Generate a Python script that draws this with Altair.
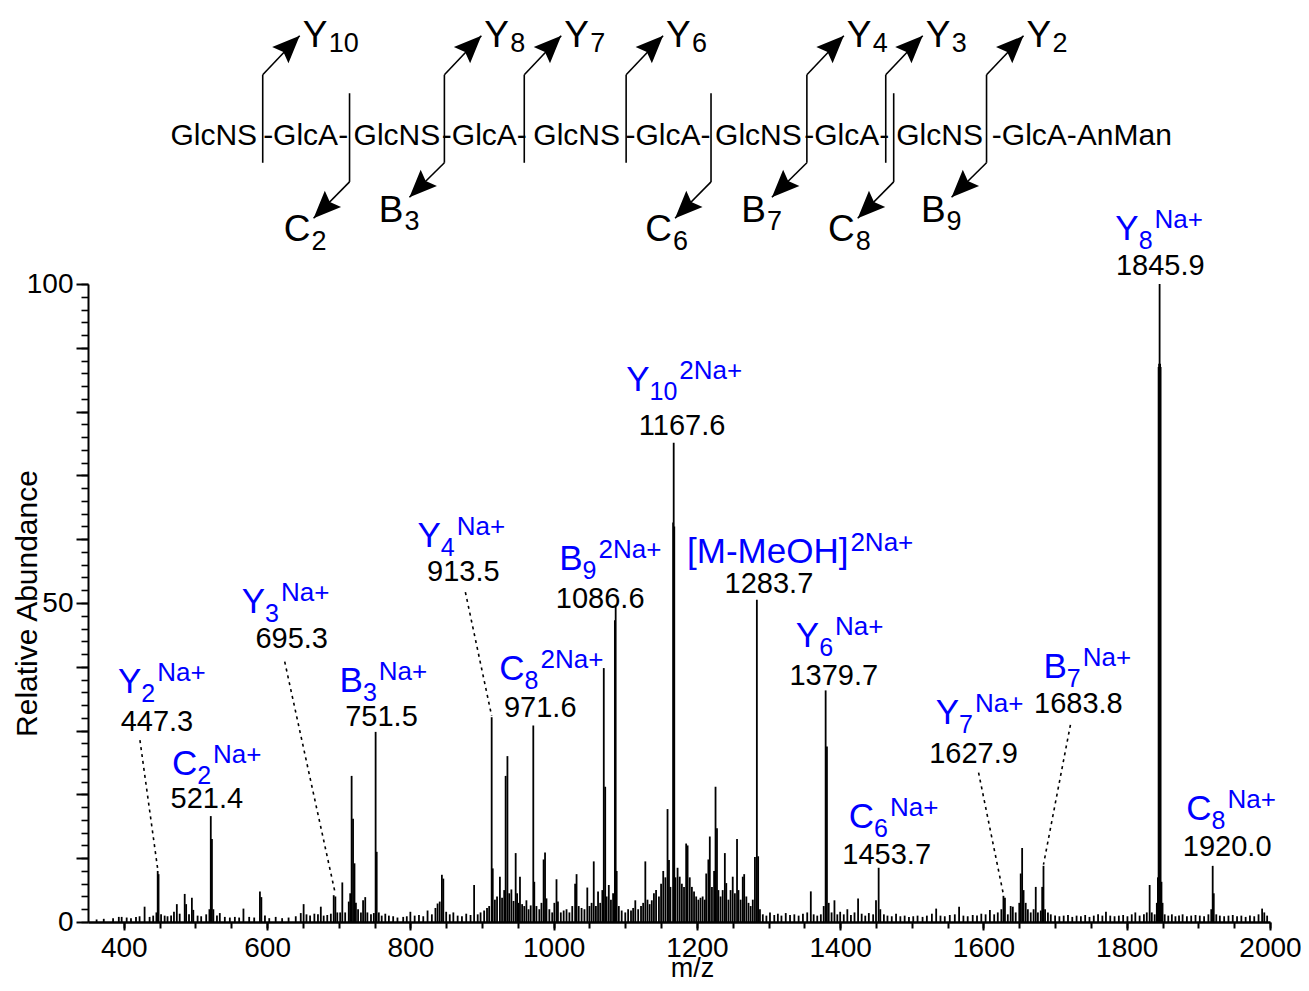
import altair as alt
import pandas as pd

FONT = "Liberation Sans, Arial, sans-serif"
BLUE = "#0000ff"

X_DOMAIN = [350, 2000]
Y_DOMAIN = [0, 100]
PLOT_W, PLOT_H = 1182, 638
MZ_PER_PX = (X_DOMAIN[1] - X_DOMAIN[0]) / PLOT_W
AB_PER_PX = (Y_DOMAIN[1] - Y_DOMAIN[0]) / PLOT_H

# ---------------- spectrum peaks (m/z, relative abundance) ----------------
peaks_350_440 = [(362, 0.4), (372, 0.5), (385, 0.6), (393, 0.8), (397, 0.8), (404, 0.7), (410, 0.6),
                 (417, 0.8), (422, 0.9), (429, 2.4), (436, 0.8), (441, 1.0)]
peaks_445_530 = [(445.5, 1.5), (447.3, 8.0), (448.5, 7.5), (452, 1.2), (457, 1.0), (461, 0.9), (466, 1.0),
                 (470, 1.6), (474, 2.8), (478, 1.3), (485, 4.4), (487, 2.8), (491, 1.2), (495, 3.8),
                 (497, 1.9), (503, 1.0), (508, 0.9), (515, 1.2), (519.5, 2.0), (521.4, 16.6), (523, 13.0),
                 (525, 2.0), (530, 1.0)]
peaks_534_700 = [(534, 1.4), (541, 0.8), (548, 0.7), (555, 0.8), (561, 0.7), (567, 2.1), (575, 0.8),
                 (582, 0.7), (590, 4.8), (592, 3.9), (597, 1.0), (603, 0.6), (612, 0.8), (621, 0.6),
                 (630, 0.7), (640, 0.9), (647, 1.4), (651, 2.8), (655, 1.2), (660, 1.0), (666, 1.3),
                 (671, 1.2), (675, 2.4), (679, 1.0), (684, 1.1), (689, 1.3), (693, 4.2), (695.3, 4.0),
                 (698, 1.5)]
peaks_700_760 = [(702, 1.5), (705, 6.2), (709, 1.5), (714, 3.2), (716, 4.5), (718, 22.9), (720, 16.2),
                 (722, 9.2), (724, 3.0), (727, 2.0), (731, 1.5), (734, 3.4), (737, 3.9), (740, 1.5),
                 (745, 1.2), (749, 1.4), (751.5, 29.8), (753, 11.0), (756, 1.5), (760, 1.0)]
peaks_765_910 = [(765, 1.3), (770, 1.0), (776, 0.9), (782, 0.7), (790, 0.8), (795, 0.9), (800, 1.6),
                 (806, 1.0), (812, 1.1), (818, 0.9), (824, 1.8), (830, 1.2), (835, 2.2), (838, 2.9),
                 (841, 3.2), (844, 7.4), (846, 6.8), (850, 1.6), (855, 1.2), (860, 1.5), (866, 1.0),
                 (872, 0.9), (878, 1.3), (884, 1.1), (889, 5.8), (894, 1.2), (898, 1.5), (903, 1.8),
                 (907, 2.2), (910, 2.5)]
peaks_913_1000 = [(913.5, 32.1), (915, 8.4), (918, 3.5), (921, 4.0), (925, 7.1), (928, 3.8), (931, 5.0),
                  (933, 22.9), (935.5, 26.0), (938, 4.5), (941, 5.1), (944, 3.3), (947, 10.8), (949, 4.5),
                  (951, 3.0), (953, 7.1), (956, 2.8), (959, 2.5), (962, 3.4), (965, 2.0), (968, 2.6),
                  (971.6, 30.8), (973, 6.3), (976, 2.5), (980, 2.0), (983, 3.0), (986, 9.8), (988, 10.9),
                  (990, 3.7), (994, 2.0), (998, 1.5)]
peaks_1000_1100 = [(1001, 3.0), (1004, 6.7), (1006, 3.2), (1010, 1.5), (1014, 1.8), (1018, 2.0), (1022, 1.5),
                   (1026, 2.5), (1030, 6.0), (1032, 7.5), (1035, 2.5), (1039, 2.2), (1043, 2.0), (1047, 5.4),
                   (1050, 2.5), (1053, 3.0), (1056, 9.5), (1059, 2.5), (1062, 4.8), (1065, 3.0), (1068, 5.0),
                   (1070, 39.8), (1072, 21.2), (1074, 4.0), (1077, 5.8), (1080, 3.5), (1083, 4.5),
                   (1085.5, 47.3), (1086.6, 49.6), (1088, 8.0), (1091, 2.5), (1095, 1.8), (1100, 1.5)]
peaks_1100_1200 = [(1104, 2.0), (1108, 1.8), (1111, 2.2), (1114, 3.4), (1118, 2.0), (1122, 2.5), (1125, 3.0),
                   (1128, 9.5), (1131, 3.5), (1134, 2.8), (1137, 3.4), (1140, 4.5), (1143, 5.0), (1147, 4.0),
                   (1150, 6.0), (1153, 8.0), (1156, 7.0), (1159, 17.7), (1161, 9.7), (1163, 5.5),
                   (1166.8, 62.6), (1167.6, 75.1), (1168.4, 62.0), (1170, 7.0), (1173, 8.5), (1176, 7.1),
                   (1179, 6.0), (1182, 5.5), (1185, 12.3), (1187, 12.0), (1190, 7.0), (1193, 5.5),
                   (1196, 4.8), (1199, 4.0)]
peaks_1200_1290 = [(1202, 3.5), (1205, 3.8), (1208, 4.0), (1211, 3.5), (1213, 7.6), (1216, 9.8), (1218, 13.4),
                   (1221, 5.5), (1224, 8.0), (1226, 21.2), (1228, 14.7), (1230, 5.0), (1233, 4.0), (1236, 5.0),
                   (1239, 10.8), (1241, 6.1), (1244, 3.5), (1247, 5.0), (1250, 7.1), (1253, 4.5), (1256, 13.0),
                   (1258, 5.0), (1261, 3.5), (1264, 7.1), (1266, 7.5), (1269, 4.0), (1272, 3.0), (1275, 2.5),
                   (1278, 3.5), (1281, 10.2), (1283.7, 50.5), (1285.5, 10.3), (1288, 2.0)]
peaks_1290_1460 = [(1292, 1.2), (1297, 1.0), (1302, 1.5), (1308, 1.1), (1313, 1.3), (1318, 1.0), (1324, 1.4),
                   (1330, 1.1), (1336, 1.2), (1342, 1.0), (1348, 1.3), (1354, 1.5), (1359, 4.8), (1363, 1.2),
                   (1368, 1.0), (1373, 1.2), (1377, 2.5), (1379.7, 36.3), (1381.5, 27.5), (1384, 3.0),
                   (1388, 1.5), (1392, 3.4), (1396, 1.2), (1400, 1.6), (1405, 1.2), (1410, 2.0), (1415, 1.1),
                   (1420, 1.5), (1425, 3.7), (1430, 1.3), (1435, 1.0), (1440, 1.4), (1446, 1.2), (1450, 3.4),
                   (1453.7, 8.5), (1456, 2.0)]
peaks_1460_1700 = [(1461, 1.2), (1466, 1.0), (1472, 0.9), (1478, 1.3), (1484, 0.9), (1490, 1.0), (1496, 0.8),
                   (1502, 0.9), (1508, 1.0), (1515, 0.8), (1521, 1.0), (1528, 1.3), (1534, 2.1), (1540, 1.0),
                   (1546, 0.9), (1553, 1.1), (1560, 1.2), (1566, 2.4), (1572, 1.0), (1578, 0.9), (1585, 1.1),
                   (1591, 1.0), (1597, 1.3), (1603, 1.2), (1609, 1.9), (1615, 1.2), (1620, 1.5), (1625, 2.0),
                   (1627.9, 4.1), (1630, 3.8), (1634, 1.2), (1638, 2.5), (1641, 2.4), (1645, 1.5), (1650, 3.0),
                   (1652, 7.6), (1654, 11.6), (1656, 5.0), (1659, 3.0), (1662, 2.0), (1666, 1.5), (1670, 2.0),
                   (1673, 5.5), (1676, 1.5), (1680, 1.8), (1682, 5.5), (1683.8, 8.8), (1686, 2.0), (1690, 1.5),
                   (1694, 1.2)]
peaks_1700_2000 = [(1700, 1.0), (1706, 0.9), (1712, 1.0), (1718, 1.1), (1724, 0.8), (1730, 1.0), (1736, 0.9),
                   (1742, 1.1), (1748, 0.8), (1754, 1.0), (1760, 1.2), (1766, 1.0), (1771, 1.6), (1777, 1.0),
                   (1783, 0.9), (1789, 1.0), (1795, 1.1), (1801, 0.9), (1807, 1.2), (1812, 1.5), (1818, 1.0),
                   (1824, 1.2), (1828, 1.5), (1832, 5.8), (1835, 1.5), (1839, 1.2), (1842, 3.0), (1843.5, 7.0),
                   (1844.5, 87.0), (1845.2, 87.5), (1845.9, 100.0), (1846.6, 87.5), (1847.3, 87.0),
                   (1848.5, 6.3), (1850, 3.0), (1853, 1.2), (1858, 1.0), (1863, 1.2), (1868, 0.9), (1873, 1.0),
                   (1878, 1.2), (1884, 0.9), (1890, 1.0), (1896, 1.1), (1902, 1.0), (1908, 0.9), (1914, 1.2),
                   (1918, 2.0), (1920.0, 8.8), (1921.5, 4.5), (1925, 1.2), (1930, 1.0), (1936, 0.9), (1942, 1.0),
                   (1948, 1.1), (1954, 0.9), (1960, 1.0), (1966, 0.8), (1972, 1.0), (1978, 0.9), (1984, 1.2),
                   (1989, 2.1), (1992, 1.5), (1996, 1.0)]

# ---------------- peak annotations ----------------
ion_main = ["Y", "C", "Y", "B", "Y", "C", "B", "Y", "[M-MeOH]", "Y", "C", "Y", "B", "C", "Y"]
ion_sub = ["2", "2", "3", "3", "4", "8", "9", "10", "", "6", "6", "7", "7", "8", "8"]
ion_sup = ["Na+", "Na+", "Na+", "Na+", "Na+", "2Na+", "2Na+", "2Na+", "2Na+", "Na+", "Na+", "Na+",
           "Na+", "Na+", "Na+"]
mz_label = ["447.3", "521.4", "695.3", "751.5", "913.5", "971.6", "1086.6", "1167.6", "1283.7", "1379.7",
            "1453.7", "1627.9", "1683.8", "1920.0", "1845.9"]
num_x = [446.2, 515.9, 634.3, 759.7, 874.0, 981.3, 1065.0, 1179.3, 1300.5, 1391.1, 1464.9, 1586.2,
         1732.5, 1940.2, 1846.9]
num_y = [29.94, 17.87, 42.95, 30.72, 53.45, 32.13, 49.22, 76.33, 51.57, 37.15, 9.09, 24.92, 32.76,
         10.34, 101.41]
ion_x = [391.8, 467.1, 564.6, 701.2, 809.9, 924.2, 1007.8, 1101.2, 1186.2, 1338.1, 1412.0, 1533.3,
         1683.8, 1883.1, 1784.1]
ion_y = [35.89, 23.04, 48.43, 36.05, 58.78, 37.93, 55.17, 83.23, 56.27, 43.10, 14.73, 31.03, 38.24,
         15.99, 106.9]

# dashed leader lines: label end -> peak top
lead_x1 = [422.5, 624.6, 876.8, 1593.2, 1721.4]
lead_y1 = [28.5, 40.8, 51.7, 23.4, 30.9]
lead_x2 = [447.3, 695.3, 913.5, 1627.9, 1683.8]
lead_y2 = [8.3, 4.4, 32.3, 4.3, 9.0]

# ---------------- glycan cleavage scheme ----------------
glycan_tokens = ["GlcNS", "-GlcA-", "GlcNS", "-GlcA-", "GlcNS", "-GlcA-", "GlcNS", "-GlcA-", "GlcNS",
                 "-GlcA-AnMan"]
token_x = [525.6, 653.8, 781.3, 903.3, 1032.2, 1159.7, 1285.9, 1409.2, 1538.8, 1737.4]
TOKEN_Y = 121.8

y_frag_x = [593.9, 847.5, 959.0, 1101.2, 1353.5, 1463.6, 1604.3]
y_frag_n = ["10", "8", "7", "6", "4", "3", "2"]
b_frag_x = [847.5, 1353.5, 1604.3]
b_frag_n = ["3", "7", "9"]
c_frag_x = [715.1, 1219.7, 1474.7]
c_frag_n = ["2", "6", "8"]

Y_LINE_LO, Y_LINE_HI = 119.0, 132.8
C_LINE_LO, C_LINE_HI = 116.0, 129.9
Y_TIP_DX, Y_TIP_Y = 51.6, 138.9
B_TIP_DX, B_TIP_Y = -48.8, 113.6
C_TIP_DX, C_TIP_Y = -50.2, 110.3
ARROW = "M0,0L0.42,1L0,0.84L-0.42,1Z"
ARROW_SIZE = 3000

# ---------------- build tables ----------------
all_peaks = (peaks_350_440 + peaks_445_530 + peaks_534_700 + peaks_700_760 + peaks_765_910 +
             peaks_913_1000 + peaks_1000_1100 + peaks_1100_1200 + peaks_1200_1290 + peaks_1290_1460 +
             peaks_1460_1700 + peaks_1700_2000)
peaks = pd.DataFrame(all_peaks, columns=["mz", "ab"])
peaks["zero"] = 0.0

EM = {"Y": 0.667, "B": 0.667, "C": 0.722, "[": 0.278, "]": 0.278, "M": 0.833, "-": 0.333, "e": 0.556,
      "O": 0.778, "H": 0.722, "N": 0.722, "a": 0.556, "+": 0.584}


def text_w(s, size):
    return sum(EM.get(c, 0.556) for c in s) * size


ION_SIZE, SUB_SIZE, SUP_SIZE, NUM_SIZE = 35, 25, 26, 29

ann = pd.DataFrame({"main": ion_main, "sub": ion_sub, "sup": ion_sup, "num": mz_label,
                    "num_x": num_x, "num_y": num_y, "ion_x": ion_x, "ion_y": ion_y})
ann["sub_x"] = ann["ion_x"] + ann["main"].map(lambda s: text_w(s, ION_SIZE)) * MZ_PER_PX
ann["sup_x"] = ann["sub_x"] + (ann["sub"].map(lambda s: text_w(s, SUB_SIZE)) + 2) * MZ_PER_PX

leads = pd.DataFrame({"x1": lead_x1, "y1": lead_y1, "x2": lead_x2, "y2": lead_y2})

tokens = pd.DataFrame({"t": glycan_tokens, "x": token_x, "y": TOKEN_Y})

vert_rows = []
for x in sorted(set(y_frag_x)):
    vert_rows.append({"x": x, "y1": Y_LINE_LO, "y2": Y_LINE_HI})
for x in c_frag_x:
    vert_rows.append({"x": x, "y1": C_LINE_LO, "y2": C_LINE_HI})
verts = pd.DataFrame(vert_rows)

shaft_rows = []
for x in y_frag_x:
    shaft_rows.append({"x1": x, "y1": Y_LINE_HI, "x2": x + Y_TIP_DX, "y2": Y_TIP_Y})
for x in b_frag_x:
    shaft_rows.append({"x1": x, "y1": Y_LINE_LO, "x2": x + B_TIP_DX, "y2": B_TIP_Y})
for x in c_frag_x:
    shaft_rows.append({"x1": x, "y1": C_LINE_LO, "x2": x + C_TIP_DX, "y2": C_TIP_Y})
shafts = pd.DataFrame(shaft_rows)

y_frags = pd.DataFrame({"x": [x + Y_TIP_DX for x in y_frag_x], "y": Y_TIP_Y, "n": y_frag_n, "l": "Y"})
b_frags = pd.DataFrame({"x": [x + B_TIP_DX for x in b_frag_x], "y": B_TIP_Y, "n": b_frag_n, "l": "B"})
c_frags = pd.DataFrame({"x": [x + C_TIP_DX for x in c_frag_x], "y": C_TIP_Y, "n": c_frag_n, "l": "C"})
down_frags = pd.concat([b_frags, c_frags], ignore_index=True)

# ---------------- chart ----------------
XS = alt.Scale(domain=X_DOMAIN, nice=False, zero=False)
YS = alt.Scale(domain=Y_DOMAIN, nice=False, zero=False)


def X(f):
    return alt.X(f, type="quantitative", scale=XS, axis=None)


def Y(f):
    return alt.Y(f, type="quantitative", scale=YS, axis=None)


x_major = alt.Axis(values=list(range(400, 2001, 200)), orient="bottom", grid=False, format="d",
                   tickSize=8, tickWidth=2, tickColor="black", domainWidth=2.5, domainColor="black",
                   labelFont=FONT, labelFontSize=28, labelColor="black", labelPadding=4, labelFlush=False,
                   title="m/z", titleFont=FONT, titleFontSize=27, titleFontWeight="normal",
                   titleColor="black", titleX=604, titleY=54, titleAlign="center",
                   titleBaseline="alphabetic")
x_minor = alt.Axis(values=list(range(400, 2001, 50)), orient="bottom", grid=False, labels=False,
                   domain=False, tickSize=6, tickWidth=2, tickColor="black", title=None)
y_major = alt.Axis(values=list(range(0, 101, 10)), orient="left", grid=False,
                   labelExpr="datum.value % 50 === 0 ? datum.label : ''",
                   tickSize=12, tickWidth=2, tickColor="black", domainWidth=2, domainColor="black",
                   labelFont=FONT, labelFontSize=28, labelColor="black", labelPadding=3,
                   title="Relative Abundance", titleFont=FONT, titleFontSize=30, titleFontWeight="normal",
                   titleColor="black", titleX=-52, titleY=319, titleAngle=270, titleAlign="center",
                   titleBaseline="alphabetic")
y_minor = alt.Axis(values=list(range(0, 101, 2)), orient="left", grid=False, labels=False,
                   domain=False, tickSize=7, tickWidth=1.6, tickColor="black", title=None)

peak_layer = alt.Chart(peaks).mark_rule(color="black", strokeWidth=1.8).encode(
    x=alt.X("mz:Q", scale=XS, axis=x_major),
    y=alt.Y("ab:Q", scale=YS, axis=y_major),
    y2="zero:Q")

minor_layer = alt.Chart(peaks).mark_rule(opacity=0).encode(
    x=alt.X("mz:Q", scale=XS, axis=x_minor),
    y=alt.Y("ab:Q", scale=YS, axis=y_minor))

lead_layer = alt.Chart(leads).mark_rule(color="black", strokeWidth=1.6, strokeDash=[3, 4]).encode(
    x=X("x1"), y=Y("y1"), x2="x2:Q", y2="y2:Q")

txt = dict(font=FONT, baseline="alphabetic")
main_layer = alt.Chart(ann).mark_text(align="left", fontSize=ION_SIZE, color=BLUE, **txt).encode(
    x=X("ion_x"), y=Y("ion_y"), text="main:N")
sub_layer = alt.Chart(ann).mark_text(align="left", fontSize=SUB_SIZE, color=BLUE, dy=9, **txt).encode(
    x=X("sub_x"), y=Y("ion_y"), text="sub:N")
sup_layer = alt.Chart(ann).mark_text(align="left", fontSize=SUP_SIZE, color=BLUE, dy=-12, **txt).encode(
    x=X("sup_x"), y=Y("ion_y"), text="sup:N")
num_layer = alt.Chart(ann).mark_text(align="center", fontSize=NUM_SIZE, color="black", **txt).encode(
    x=X("num_x"), y=Y("num_y"), text="num:N")

token_layer = alt.Chart(tokens).mark_text(align="center", fontSize=30, color="black", **txt).encode(
    x=X("x"), y=Y("y"), text="t:N")
vert_layer = alt.Chart(verts).mark_rule(color="black", strokeWidth=1.6).encode(
    x=X("x"), y=Y("y1"), y2="y2:Q")
shaft_layer = alt.Chart(shafts).mark_rule(color="black", strokeWidth=1.6).encode(
    x=X("x1"), y=Y("y1"), x2="x2:Q", y2="y2:Q")
head_up = alt.Chart(y_frags).mark_point(shape=ARROW, size=ARROW_SIZE, filled=True, color="black",
                                        opacity=1, angle=45).encode(x=X("x"), y=Y("y"))
head_down = alt.Chart(down_frags).mark_point(shape=ARROW, size=ARROW_SIZE, filled=True, color="black",
                                             opacity=1, angle=225).encode(x=X("x"), y=Y("y"))

y_main = alt.Chart(y_frags).mark_text(align="left", fontSize=37, color="black", dx=3, dy=11, **txt).encode(
    x=X("x"), y=Y("y"), text="l:N")
y_sub = alt.Chart(y_frags).mark_text(align="left", fontSize=27, color="black", dx=29, dy=16, **txt).encode(
    x=X("x"), y=Y("y"), text="n:N")
b_main = alt.Chart(b_frags).mark_text(align="right", fontSize=37, color="black", dx=-6, dy=25, **txt).encode(
    x=X("x"), y=Y("y"), text="l:N")
b_sub = alt.Chart(b_frags).mark_text(align="left", fontSize=27, color="black", dx=-5, dy=33, **txt).encode(
    x=X("x"), y=Y("y"), text="n:N")
c_main = alt.Chart(c_frags).mark_text(align="right", fontSize=37, color="black", dx=-3, dy=23, **txt).encode(
    x=X("x"), y=Y("y"), text="l:N")
c_sub = alt.Chart(c_frags).mark_text(align="left", fontSize=27, color="black", dx=-2, dy=32, **txt).encode(
    x=X("x"), y=Y("y"), text="n:N")

chart = alt.layer(
    peak_layer, minor_layer, lead_layer, main_layer, sub_layer, sup_layer, num_layer,
    token_layer, vert_layer, shaft_layer, head_up, head_down, y_main, y_sub, b_main, b_sub, c_main, c_sub
).resolve_axis(x="independent", y="independent").properties(
    width=PLOT_W, height=PLOT_H,
    autosize=alt.AutoSizeParams(type="none"),
    padding={"left": 80, "top": 276, "right": 31, "bottom": 60},
    background="white",
).configure_view(strokeWidth=0)

chart.save("out.html", embed_options={"renderer": "svg", "actions": False})
